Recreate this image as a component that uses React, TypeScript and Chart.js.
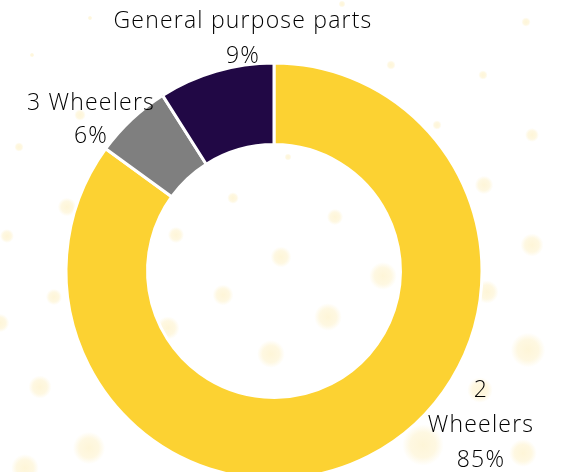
import React, { useEffect, useRef } from "react";
import { Chart, registerables } from "chart.js";

Chart.register(...registerables);

const categories = ["2 Wheelers", "3 Wheelers", "General purpose parts"];
const shares = [85, 6, 9];
const colors = ["#FCD232", "#7F7F7F", "#210845"];

// label lines per category (text), drawn outside the ring
const labelLines = [["2", "Wheelers", "85%"], ["3 Wheelers", "6%"], ["General purpose parts", "9%"]];

// decorative bokeh dots: [x, y, r]
const dots: number[][] = [
  [288, 157, 3], [233, 198, 5], [335, 217, 7], [176, 235, 7], [281, 257, 9], [383, 276, 12],
  [223, 295, 9], [328, 317, 12], [168, 328, 10], [271, 354, 12], [526, 22, 4], [483, 75, 4],
  [437, 125, 4], [532, 135, 6], [484, 185, 8], [532, 245, 10], [487, 292, 10], [528, 350, 15],
  [0, 323, 8], [40, 387, 10], [89, 448, 14], [25, 468, 12], [423, 445, 18], [523, 453, 12],
  [480, 390, 11], [80, 115, 5], [19, 147, 4], [90, 18, 2], [32, 55, 2], [7, 236, 6], [67, 207, 8],
  [54, 297, 7], [391, 65, 4], [342, 4, 3],
];

const FONT = '350 23px "Open Sans", "Noto Sans", sans-serif';

const labelPlugin = {
  id: "outsideLabels",
  afterDraw(chart: any) {
    const ctx = chart.ctx;
    const meta = chart.getDatasetMeta(0);
    const cfg = chart.options.plugins.outsideLabels;
    ctx.save();
    ctx.font = FONT;
    (ctx as any).letterSpacing = "1.2px";
    ctx.fillStyle = "#000";
    ctx.textAlign = "center";
    ctx.textBaseline = "alphabetic";
    meta.data.forEach((arc: any, i: number) => {
      const a = cfg.anchors[i];
      labelLines[i].forEach((line: string, j: number) => {
        ctx.fillText(line, arc.x + a[0], arc.y + a[1] + j * a[2]);
      });
    });
    ctx.restore();
  },
};

export default function App() {
  const ref = useRef<HTMLCanvasElement | null>(null);
  useEffect(() => {
    if (!ref.current) return;
    const chart = new Chart(ref.current, {
      type: "doughnut",
      data: {
        labels: categories,
        datasets: [
          {
            data: shares,
            backgroundColor: colors,
            borderColor: "#ffffff",
            borderWidth: 3,
          },
        ],
      },
      options: {
        animation: false,
        responsive: true,
        maintainAspectRatio: false,
        radius: 208,
        cutout: "60.8%",
        layout: { padding: 0 },
        plugins: {
          legend: { display: false },
          tooltip: { enabled: false },
          outsideLabels: {
            anchors: [
              [207, 126, 35],
              [-183, -161, 33],
              [-31, -243, 35],
            ],
          },
        } as any,
      },
      plugins: [labelPlugin],
    });
    return () => chart.destroy();
  }, []);

  const bg = dots
    .map(
      ([x, y, r]) =>
        `radial-gradient(circle at ${x}px ${y}px, rgba(250,214,90,0.24) 0px, rgba(250,214,90,0.18) ${r * 0.7}px, rgba(250,214,90,0) ${r * 1.15}px)`
    )
    .join(",");

  return (
    <div
      style={{
        position: "absolute",
        left: 0,
        top: 0,
        width: 562,
        height: 472,
        overflow: "hidden",
        background: bg + ", #ffffff",
      }}
    >
      <div style={{ position: "absolute", left: 0, top: 0, width: 548, height: 542 }}>
        <canvas ref={ref} />
      </div>
    </div>
  );
}
